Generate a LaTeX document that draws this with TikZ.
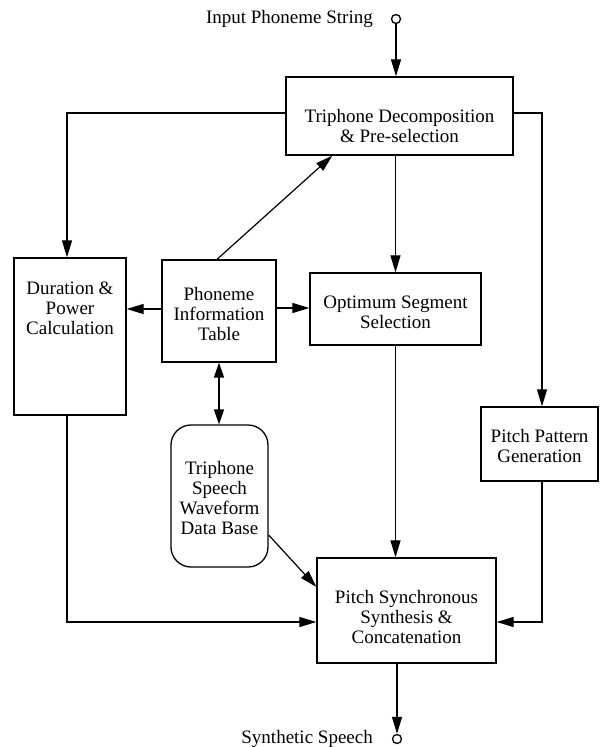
\documentclass[tikz,border=0pt]{standalone}
\usepackage{fontspec}
\setmainfont{Liberation Serif}
\usetikzlibrary{arrows.meta,calc}
\begin{document}
\begin{tikzpicture}[x=1pt,y=1pt,
  box/.style={draw,line width=1.3pt,inner sep=0pt},
  lbl/.style={align=center,inner sep=0pt,font=\fontsize{19}{20}\selectfont},
  arr/.style={line width=1.2pt,-{Triangle[length=17pt,width=10pt]}},
  arrtwo/.style={line width=1.6pt,{Triangle[length=15pt,width=10pt]}-{Triangle[length=15pt,width=10pt]}},
  term/.style={circle,draw,line width=1.3pt,minimum size=9pt,inner sep=0pt}]
\useasboundingbox (0,0) rectangle (601,-747);
% terminals
\node[term] (inc) at (396,-19) {};
\node[lbl,anchor=east] (inlbl) at (373,-19) {Input Phoneme String};
\node[term] (outc) at (397,-739) {};
\node[lbl,anchor=east] (outlbl) at (373,-739) {Synthetic Speech};
% boxes
\node[box,minimum width=227pt,minimum height=78pt] (trip) at (399.5,-116) {};
\node[lbl] (triplbl) at (399.5,-126) {Triphone Decomposition\\\& Pre-selection};
\node[box,minimum width=112pt,minimum height=157pt] (dur) at (70,-336.5) {};
\node[lbl] (durlbl) at (70,-308) {Duration \&\\Power\\Calculation};
\node[box,minimum width=114pt,minimum height=102pt] (phon) at (219,-311) {};
\node[lbl] (phonlbl) at (219,-314) {Phoneme\\Information\\Table};
\node[box,minimum width=171pt,minimum height=72pt] (opt) at (395.5,-309) {};
\node[lbl] (optlbl) at (395.5,-312) {Optimum Segment\\Selection};
\node[box,minimum width=117pt,minimum height=74pt] (pp) at (539.5,-444) {};
\node[lbl] (pplbl) at (539.5,-446) {Pitch Pattern\\Generation};
\node[box,rounded corners=20pt,minimum width=97pt,minimum height=142pt] (db) at (219.5,-496) {};
\node[lbl] (dblbl) at (219.5,-498) {Triphone\\Speech\\Waveform\\Data Base};
\node[box,minimum width=179pt,minimum height=105pt] (ps) at (406.5,-610.5) {};
\node[lbl] (pslbl) at (406.5,-617) {Pitch Synchronous\\Synthesis \&\\Concatenation};
% connectors
\draw[arr] (inc.south) -- (inc.south |- trip.north);
\draw[arr] ([yshift=3pt]trip.west) -| ([xshift=-3pt]dur.north);
\draw[arr] ([yshift=3pt]trip.east) -| ([xshift=2.5pt]pp.north);
\draw[arr] (opt.north |- trip.south) -- (opt.north);
\draw[arr] ([xshift=-2pt]phon.north) -- ([xshift=47pt]trip.south west);
\draw[arr] ([yshift=2pt]phon.west) -- ([yshift=2pt]phon.west -| dur.east);
\draw[arr] ([yshift=3pt]phon.east) -- ([yshift=3pt]phon.east -| opt.west);
\draw[arrtwo] (phon.south) -- (phon.south |- db.north);
\draw[arr] (opt.south) -- (opt.south |- ps.north);
\draw[arr] ([yshift=-39pt]db.east) -- ([yshift=23.5pt]ps.west);
\draw[arr] ([xshift=-3pt]dur.south) |- ([yshift=-11.5pt]ps.west);
\draw[arr] ([xshift=2.5pt]pp.south) |- ([yshift=-11.5pt]ps.east);
\draw[arr] (ps.south -| outc) -- (outc.north);
\end{tikzpicture}
\end{document}
